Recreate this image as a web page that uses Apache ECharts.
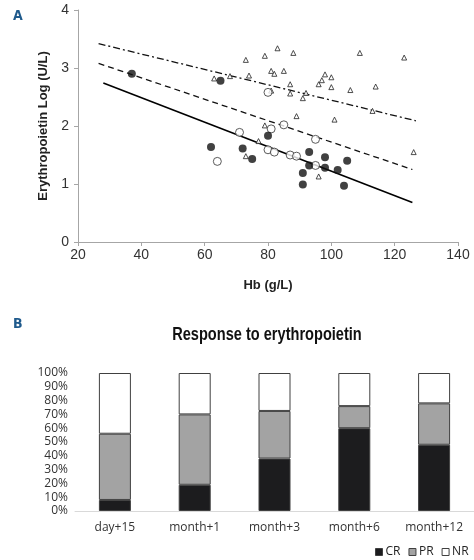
<!DOCTYPE html>
<html>
<head>
<meta charset="utf-8">
<script src="https://cdn.jsdelivr.net/npm/echarts@6/dist/echarts.min.js"></script>
<style>
html,body{margin:0;padding:0;background:#fff;}
#chart{width:474px;height:560px;}
</style>
</head>
<body>
<div id="chart"></div>
<script>
// ---- Panel A: scatter data (Hb g/L, Erythropoietin log U/L) ----
const crPoints = [[37,2.90],[65,2.78],[62,1.64],[72,1.61],[75,1.43],[80,1.83],[93,1.55],[98,1.46],[105,1.40],[93,1.32],[98,1.28],[102,1.24],[91,1.19],[91,0.99],[104,0.97]];
const prPoints = [[71,1.89],[64,1.39],[80,1.59],[82,1.55],[81,1.95],[80,2.58],[85,2.02],[87,1.50],[89,1.48],[95,1.77],[95,1.32]];
const nrPoints = [[63,2.82],[68,2.86],[73,3.14],[74,2.87],[79,3.21],[83,3.34],[81,2.95],[82,2.90],[88,3.26],[85,2.95],[87,2.72],[87,2.56],[81,2.61],[92,2.57],[91,2.48],[98,2.89],[97,2.79],[100,2.84],[96,2.72],[100,2.67],[106,2.62],[114,2.68],[109,3.26],[123,3.18],[113,2.26],[89,2.17],[101,2.11],[79,2.01],[126,1.55],[96,1.13],[73,1.48],[77,1.74]];
const crFit = [[28,2.74],[125.6,0.68]];
const prFit = [[26.5,3.08],[125.6,1.25]];
const nrFit = [[26.5,3.42],[126.7,2.09]];

// ---- Panel B: stacked response percentages ----
const timepoints = ['day+15','month+1','month+3','month+6','month+12'];
const crPct = [8, 19, 38, 60, 48];
const prPct = [48, 51, 34.5, 16, 30];
const nrPct = [44, 30, 27.5, 24, 22];
const pctTicks = [0,10,20,30,40,50,60,70,80,90,100];

const chart = echarts.init(document.getElementById('chart'), null, {renderer:'canvas'});
const axisGray = '#a6a6a6';
const labelColor = '#333';
const fontA = 'Liberation Sans, Arial, sans-serif';
const fontB = 'Open Sans, Noto Sans, sans-serif';

chart.setOption({
  animation:false,
  backgroundColor:'#fff',
  graphic:[
    {type:'text', left:13, top:9, style:{text:'A', font:'bold 14px "DejaVu Sans Condensed", sans-serif', fill:'#1f5a8c'}},
    {type:'text', left:13, top:317, style:{text:'B', font:'bold 14px "DejaVu Sans Condensed", sans-serif', fill:'#1f5a8c'}},
    {type:'text', x:267, y:335, scaleX:0.81, scaleY:1,
     style:{text:'Response to erythropoietin', font:'bold 18px "Liberation Sans", Arial, sans-serif',
            fill:'#111', textAlign:'center', textVerticalAlign:'middle'}}
  ],
  legend:{
    data:['CR','PR','NR'], left:370, top:541,
    icon:'rect', itemWidth:7, itemHeight:7, itemGap:8,
    textStyle:{fontFamily:fontB, fontSize:12, color:'#222', padding:[0,0,0,-2]},
    itemStyle:{borderColor:'#404040', borderWidth:1}
  },
  grid:[
    {left:78, top:10, width:380, height:232},
    {left:75, top:373, width:401, height:138}
  ],
  xAxis:[
    {type:'value', gridIndex:0, min:20, max:140, interval:20,
     name:'Hb (g/L)', nameLocation:'middle', nameGap:37,
     nameTextStyle:{fontFamily:fontA, fontWeight:'bold', fontSize:13, color:'#222'},
     axisLine:{show:true, lineStyle:{color:axisGray}},
     axisTick:{show:true, length:4, lineStyle:{color:axisGray}},
     axisLabel:{fontFamily:fontA, fontSize:14, color:labelColor, margin:6},
     splitLine:{show:false}},
    {type:'category', gridIndex:1, data:timepoints,
     axisLine:{show:true, lineStyle:{color:'#d9d9d9'}},
     axisTick:{show:false},
     axisLabel:{fontFamily:fontB, fontSize:12, color:'#333', margin:11}}
  ],
  yAxis:[
    {type:'value', gridIndex:0, min:0, max:4, interval:1,
     name:'Erythropoietin Log (U/L)', nameLocation:'middle', nameGap:28, nameRotate:90,
     nameTextStyle:{fontFamily:fontA, fontWeight:'bold', fontSize:13, color:'#222'},
     axisLine:{show:true, lineStyle:{color:axisGray}},
     axisTick:{show:true, length:4, lineStyle:{color:axisGray}},
     axisLabel:{fontFamily:fontA, fontSize:14, color:labelColor, margin:9},
     splitLine:{show:false}},
    {type:'value', gridIndex:1, min:0, max:100, interval:10,
     axisLine:{show:false}, axisTick:{show:false}, splitLine:{show:false},
     axisLabel:{fontFamily:fontB, fontSize:12, color:'#333', margin:7,
       formatter:function(v){return pctTicks.indexOf(v)>=0 ? v+'%' : '';}}}
  ],
  series:[
    {name:'NR fit', type:'line', xAxisIndex:0, yAxisIndex:0, data:nrFit, symbol:'none',
     lineStyle:{color:'#111', width:1.3, type:[7,3,2,3]}, z:1},
    {name:'PR fit', type:'line', xAxisIndex:0, yAxisIndex:0, data:prFit, symbol:'none',
     lineStyle:{color:'#111', width:1.3, type:[6,4]}, z:1},
    {name:'CR fit', type:'line', xAxisIndex:0, yAxisIndex:0, data:crFit, symbol:'none',
     lineStyle:{color:'#000', width:1.6, type:'solid'}, z:1},
    {name:'No response', type:'scatter', xAxisIndex:0, yAxisIndex:0, data:nrPoints,
     symbol:'triangle', symbolSize:5,
     itemStyle:{color:'#fff', borderColor:'#222', borderWidth:1}, z:3},
    {name:'Partial response', type:'scatter', xAxisIndex:0, yAxisIndex:0, data:prPoints,
     symbol:'circle', symbolSize:8,
     itemStyle:{color:'#fff', borderColor:'#333', borderWidth:1}, z:4},
    {name:'Complete response', type:'scatter', xAxisIndex:0, yAxisIndex:0, data:crPoints,
     symbol:'circle', symbolSize:8,
     itemStyle:{color:'#111', borderColor:'#111', borderWidth:0}, z:5},
    {name:'CR', type:'bar', stack:'resp', xAxisIndex:1, yAxisIndex:1, data:crPct, barWidth:32,
     itemStyle:{color:'#1c1c1e', borderColor:'#404040', borderWidth:1}},
    {name:'PR', type:'bar', stack:'resp', xAxisIndex:1, yAxisIndex:1, data:prPct, barWidth:32,
     itemStyle:{color:'#a3a3a3', borderColor:'#404040', borderWidth:1}},
    {name:'NR', type:'bar', stack:'resp', xAxisIndex:1, yAxisIndex:1, data:nrPct, barWidth:32,
     itemStyle:{color:'#ffffff', borderColor:'#404040', borderWidth:1}}
  ]
});
</script>
</body>
</html>
